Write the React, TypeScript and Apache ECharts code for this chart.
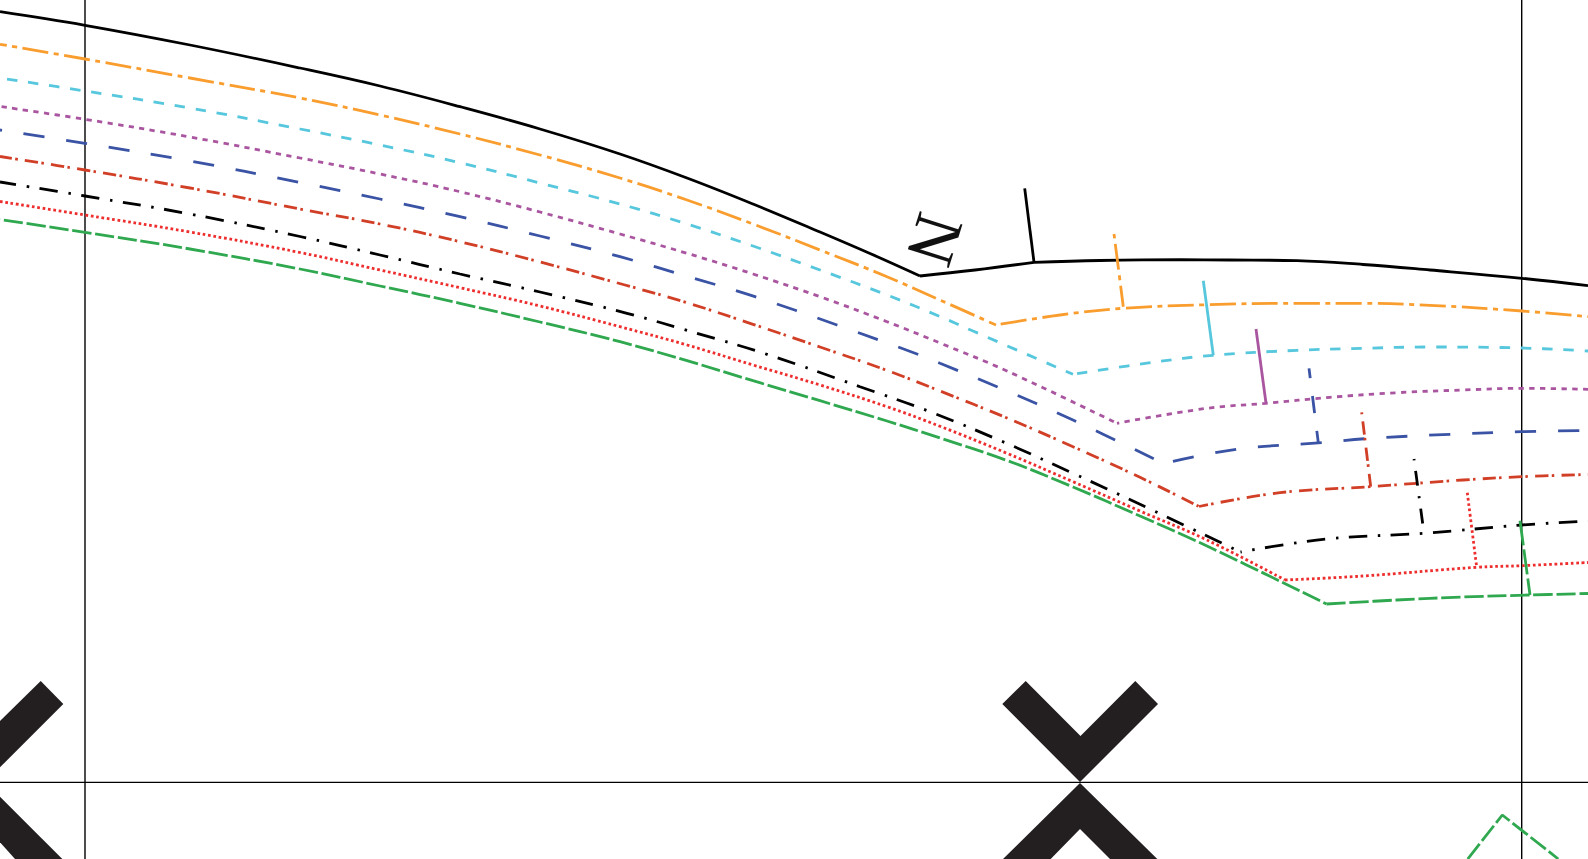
import React, { useEffect, useRef } from "react";
import * as echarts from "echarts";

type P = [number, number];

const solidA: P[] = [[0,11.7],[85,25.3],[190,45],[300,68],[380,86],[460,106.7],[540,129],[620,154],[687,178],[753,204],[820,232],[870,253.5],[920,276]];
const solidB: P[] = [[920,276],[975,270],[1034,262.3]];
const solidC: P[] = [[1034,262.3],[1100,260.5],[1180,259.7],[1230,260],[1297,260.7],[1363,264.5],[1430,270],[1522,278.3],[1588,285.7]];
const orangeA: P[] = [[0,44.3],[85,59],[190,78],[300,98],[380,115],[460,134],[540,155],[620,178],[687,200],[753,224],[820,250],[887,276.7],[940,300],[996,325]];
const orangeB: P[] = [[996,325],[1060,315],[1123,308.3],[1207,304.7],[1297,303.3],[1363,303.3],[1430,305.3],[1522,311],[1588,316.7]];
const cyanA: P[] = [[0,78],[85,91],[190,108],[300,129],[380,145],[460,162.7],[540,183],[620,204],[687,224],[753,246],[820,270],[887,295],[940,316.5],[973,331],[1073,374.3]];
const cyanB: P[] = [[1073,374.3],[1153,362.3],[1213,355.3],[1297,350.3],[1363,348.3],[1430,347],[1522,348],[1588,351]];
const purpleA: P[] = [[0,106.5],[85,119.3],[190,137],[300,158],[380,174],[460,191.7],[540,212],[620,234],[687,253.3],[753,274],[820,296.7],[887,321.7],[940,343],[1007,371],[1117,423.3]];
const purpleB: P[] = [[1117,423.3],[1207,408.3],[1266,403.3],[1330,397.3],[1397,392.7],[1463,390],[1522,388.3],[1588,389.3]];
const blueA: P[] = [[0,130],[85,143.3],[190,161],[300,182.5],[380,199],[460,216.7],[540,236],[620,256.7],[693,278],[755,296.7],[837,325],[917,354],[940,363.3],[997,386.7],[1073,420],[1163.5,463.5]];
const blueB: P[] = [[1163.5,463.5],[1236.7,449.3],[1321.7,442.7],[1365,438.7],[1450,434.3],[1522,431.7],[1588,430.5]];
const brownA: P[] = [[0,156.5],[85,170],[190,188],[300,209],[380,224],[460,241.7],[540,262],[625,285],[687,302.7],[753,324.3],[820,347],[887,370.4],[940,391],[1007,418],[1073,446.7],[1140,477.3],[1199,506.5]];
const brownB: P[] = [[1199,506.5],[1280,492.7],[1370,486.7],[1463,480],[1522,476.7],[1588,474.5]];
const dashDotA: P[] = [[0,182],[85,196],[190,214],[300,236.5],[380,255],[460,274],[540,292],[627,313.3],[697,333.3],[767,354.3],[860,386.7],[930,411.7],[1007,443.5],[1073,473.3],[1140,504.3],[1240.5,552]];
const dashDotB: P[] = [[1240.5,552],[1326.7,539],[1423.3,533.3],[1522,525],[1588,521]];
const dottedA: P[] = [[0,201.5],[85,215],[190,232],[300,252.5],[380,270],[460,287.7],[540,306],[620,326.7],[687,345],[753,365],[820,385],[887,406.7],[940,426.3],[1007,453.3],[1073,481.7],[1140,511],[1207,540],[1285,580]];
const dottedB: P[] = [[1285,580],[1363,576],[1476.7,567.3],[1522,565.7],[1588,562.5]];
const greenA: P[] = [[0,219.5],[85,232.3],[190,249],[300,269],[380,286],[460,303.3],[540,322],[620,341.7],[687,360.7],[753,380.7],[820,400.7],[887,421],[940,438],[1007,460.5],[1073,487],[1140,516],[1207,546],[1326.5,604]];
const greenB: P[] = [[1326.5,604],[1396.7,600],[1463,597],[1530,595],[1588,593.5]];

const solidTick: P[] = [[1024.7,188.3],[1034,262.3]];
const orangeTick: P[] = [[1114,234],[1123.3,306.7]];
const cyanTick: P[] = [[1203.3,280.7],[1213.3,355.3]];
const purpleTick: P[] = [[1256,329],[1266,403.3]];
const blueTick: P[] = [[1309,368.3],[1318.3,442.7]];
const brownTick: P[] = [[1361.7,412.3],[1370.7,486.7]];
const dashDotTick: P[] = [[1414,459],[1424,533.3]];
const dottedTick: P[] = [[1467.3,492.7],[1476.7,567.3]];
const greenTick: P[] = [[1520,520.7],[1530,595]];
const greenPeak: P[] = [[1467.7,859],[1502.3,815],[1558.3,859]];

const frameVerticalLeft: P[] = [[85,0],[85,859]];
const frameVerticalRight: P[] = [[1521.7,0],[1521.7,859]];
const frameHorizontal: P[] = [[0,782.3],[1588,782.3]];

const crossPieces: P[][] = [
  [[1025.7,681],[1002.3,704],[1080,782],[1158,704],[1135.3,681],[1080.5,736]],
  [[1080,783],[1003,859],[1050.7,859],[1080,829],[1110,859],[1157.3,859]],
  [[40.7,681],[63.3,704],[0,767.3],[0,721]],
  [[0,796.7],[62.3,859],[15,859],[0,842.3]],
];

const northLabel = "N";

const C = { solid:"#000000", orange:"#f99d2e", cyan:"#56c7dc", purple:"#a9559f", blue:"#3a53a4", brown:"#d13f27", red:"#ee2e2e", green:"#2fa84f", frame:"#231f20" };

const W = 2.8;
const line = (data: P[], color: string, type: any, dashOffset = 0, width = W, z = 3, smooth: any = 0.4) => ({
  type: "line", data, silent: true, symbol: "none", showSymbol: false, smooth, z,
  lineStyle: { color, width, type, dashOffset, cap: "butt" },
});

const orangeDash = [26,5.5,5,5.5];
const cyanDash = [10.5,10.7];
const purpleDash = [5.3,5.4];
const blueDash = [21.1,21.85];
const brownDash = [13.3,3.3,2.5,7.2];
const dashDotDash = [18.4,10.8,2.5,10.4];
const dashDotTickDash = [15,10.5,2,10.5];
const dotDash = [2.7,2.7];
const greenDash = [19.3,3.7];
const greenTickDash = [25,4];

export default function App() {
  const ref = useRef<HTMLDivElement>(null);
  useEffect(() => {
    const chart = echarts.init(ref.current!, null, { renderer: "svg" });
    chart.setOption({
      animation: false,
      backgroundColor: "#ffffff",
      grid: { left: 0, right: 0, top: 0, bottom: 0 },
      xAxis: { type: "value", min: 0, max: 1588, show: false },
      yAxis: { type: "value", min: 0, max: 859, inverse: true, show: false },
      series: [
        {
          type: "custom", silent: true, z: 1, clip: true,
          data: crossPieces.map((_, i) => [i]),
          encode: { x: 0, y: 0 },
          renderItem: (_p: any, api: any) => {
            const pts = crossPieces[api.value(0)].map((q) => api.coord(q));
            return { type: "polygon", shape: { points: pts }, style: { fill: C.frame } };
          },
        },
        line(frameVerticalLeft, "#000000", "solid", 0, 1.4, 2, false),
        line(frameVerticalRight, "#000000", "solid", 0, 1.4, 2, false),
        line(frameHorizontal, "#000000", "solid", 0, 1.3, 2, false),
        line(solidA, C.solid, "solid"),
        line(solidB, C.solid, "solid"),
        line(solidC, C.solid, "solid"),
        line(orangeA, C.orange, orangeDash, 19),
        line(orangeB, C.orange, orangeDash, 37),
        line(cyanA, C.cyan, cyanDash, 14.4),
        line(cyanB, C.cyan, cyanDash, 16.5),
        line(purpleA, C.purple, purpleDash, 9),
        line(purpleB, C.purple, purpleDash, 2.5),
        line(blueA, C.blue, blueDash, 19.3),
        line(blueB, C.blue, blueDash, 33),
        line(brownA, C.brown, brownDash, 1.3),
        line(brownB, C.brown, brownDash, 4),
        line(dashDotA, C.solid, dashDotDash, 1.7),
        line(dashDotB, C.solid, dashDotDash, 16.5),
        line(dottedA, C.red, dotDash, 0),
        line(dottedB, C.red, dotDash, 0),
        line(greenA, C.green, greenDash, 19),
        line(greenB, C.green, greenDash, 0),
        line(solidTick, C.solid, "solid"),
        line(orangeTick, C.orange, orangeDash, 31.5),
        line(cyanTick, C.cyan, "solid"),
        line(purpleTick, C.purple, "solid"),
        line(blueTick, C.blue, [17,18], 7),
        line(brownTick, C.brown, brownDash, 16.6),
        line(dashDotTick, C.solid, dashDotTickDash, 25.5),
        line(dottedTick, C.red, dotDash, 0),
        line(greenTick, C.green, greenTickDash, 0),
        line(greenPeak, C.green, greenDash, 0, W, 3, false),
      ],
      graphic: [
        {
          type: "text", x: 935, y: 239.5, rotation: (-107.5 * Math.PI) / 180, z: 10,
          style: { text: northLabel, fill: "#111111", font: '68px "Liberation Serif"', align: "center", verticalAlign: "middle" },
        },
      ],
    });
    return () => chart.dispose();
  }, []);
  return <div ref={ref} style={{ position: "fixed", left: 0, top: 0, width: 1588, height: 859 }} />;
}
